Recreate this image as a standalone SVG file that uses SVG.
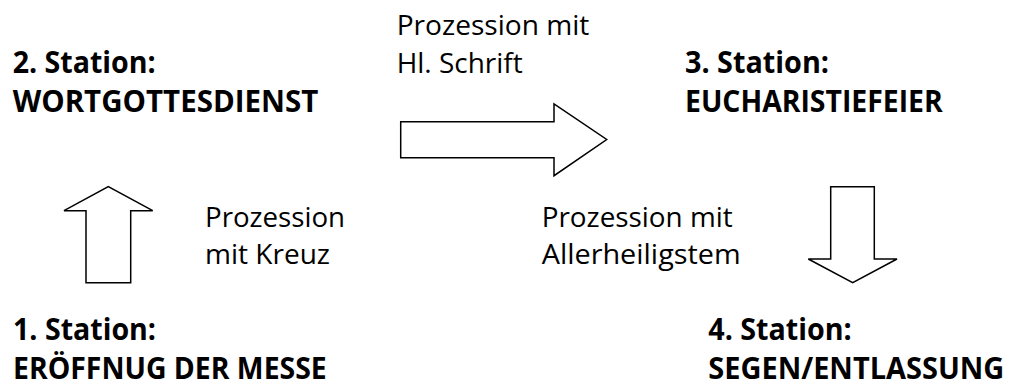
<svg xmlns="http://www.w3.org/2000/svg" width="1013" height="392" viewBox="0 0 1013 392">
<style>
.b{font-family:"Open Sans","Noto Sans",sans-serif;font-weight:bold;font-size:30px;fill:#000}
.r{font-family:"Open Sans","Noto Sans",sans-serif;font-size:27.5px;fill:#000}
.a{fill:#fff;stroke:#000;stroke-width:1.5;stroke-linejoin:miter}
</style>
<rect width="1013" height="392" fill="#fff"/>
<g id="station2"><text class="b" x="12.7" y="72.5" textLength="143" lengthAdjust="spacingAndGlyphs">2. Station:</text><text class="b" x="12.7" y="111.5" textLength="305.6" lengthAdjust="spacingAndGlyphs">WORTGOTTESDIENST</text></g>
<g id="station3"><text class="b" x="685" y="72.5" textLength="144" lengthAdjust="spacingAndGlyphs">3. Station:</text><text class="b" x="685" y="111.5" textLength="257.7" lengthAdjust="spacingAndGlyphs">EUCHARISTIEFEIER</text></g>
<g id="station1"><text class="b" x="13" y="340" textLength="143" lengthAdjust="spacingAndGlyphs">1. Station:</text><text class="b" x="13" y="378.5" textLength="313.7" lengthAdjust="spacingAndGlyphs">ERÖFFNUG DER MESSE</text></g>
<g id="station4"><text class="b" x="708.3" y="340" textLength="143.4" lengthAdjust="spacingAndGlyphs">4. Station:</text><text class="b" x="708.3" y="378.5" textLength="296" lengthAdjust="spacingAndGlyphs">SEGEN/ENTLASSUNG</text></g>
<g id="connectors">
<polygon class="a" points="400.7,121.7 554,121.7 554,104 606.7,139.5 554,175.7 554,157.7 400.7,157.7"/>
<polygon class="a" points="86,282.7 130.7,282.7 130.7,210.7 152.7,210.7 108.3,186.7 64,210.7 86,210.7"/>
<polygon class="a" points="830.7,186.7 874.3,186.7 874.3,259 897,259 852.7,282.7 808.3,259 830.7,259"/>
<g id="label-schrift"><text class="r" x="396.7" y="35" textLength="192.7" lengthAdjust="spacingAndGlyphs">Prozession mit</text><text class="r" x="396.7" y="72.5" textLength="126" lengthAdjust="spacingAndGlyphs">Hl. Schrift</text></g>
<g id="label-kreuz"><text class="r" x="205" y="226.5" textLength="140" lengthAdjust="spacingAndGlyphs">Prozession</text><text class="r" x="205" y="264" textLength="125" lengthAdjust="spacingAndGlyphs">mit Kreuz</text></g>
<g id="label-allerheiligstem"><text class="r" x="541.7" y="226.5" textLength="191" lengthAdjust="spacingAndGlyphs">Prozession mit</text><text class="r" x="541.7" y="264" textLength="199" lengthAdjust="spacingAndGlyphs">Allerheiligstem</text></g>
</g>
</svg>
